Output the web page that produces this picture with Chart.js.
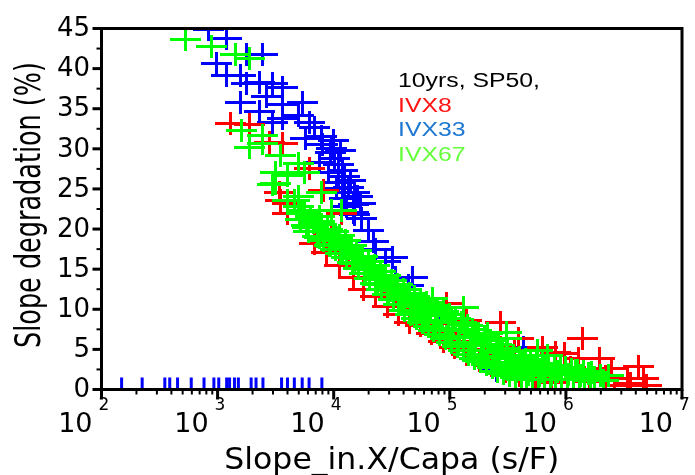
<!DOCTYPE html>
<html>
<head>
<meta charset="utf-8">
<script src="https://cdn.jsdelivr.net/npm/chart.js@4/dist/chart.umd.min.js"></script>
<style>
    html, body { margin: 0; padding: 0; background: #ffffff; }
    #wrap { width: 695px; height: 475px; }
</style>
</head>
<body>
<div id="wrap"><canvas id="slope-chart" width="695" height="475"></canvas></div>
<script>
// [Slope_in.X/Capa (s/F), Slope degradation (%)]
const ivx8Points = [
    [1290, 33.2], [1900, 33.0], [2820, 30.8], [3600, 30.7], [6150, 27.5], [8100, 24.8],
    [3400, 24.5], [4000, 23.2], [5600, 22.3], [11700, 22.0], [3500, 23.6], [4000, 22.0],
    [5900, 20.5], [6800, 18.2], [8700, 17.1], [11200, 15.5], [14800, 13.9], [18200, 12.5],
    [23000, 11.6], [29000, 10.4], [36000, 9.3], [45000, 8.4], [56000, 8.0], [70000, 7.0],
    [88000, 6.0], [110000, 5.2], [140000, 4.4], [180000, 3.6], [230000, 3.0], [300000, 2.2],
    [400000, 1.8], [550000, 1.5],
    [9500, 19.0], [13500, 17.2], [21000, 15.0], [27000, 13.2], [34000, 12.0], [43000, 10.8],
    [60000, 9.6], [75000, 8.2], [95000, 7.0], [120000, 6.0], [150000, 5.0], [190000, 4.3],
    [240000, 3.2], [320000, 2.6],
    [85000, 9.5], [138000, 8.6], [275000, 8.4], [390000, 6.4], [630000, 5.2], [810000, 4.6],
    [275000, 5.2], [360000, 4.9], [93000, 10.7], [59000, 10.7],
    [1380000, 6.3], [980000, 4.5], [1290000, 3.9], [1950000, 3.9], [2450000, 2.6], [4200000, 2.9],
    [3400000, 1.4], [4700000, 1.4], [3600000, 0.7], [4900000, 0.5], [2600000, 0.5], [1600000, 1.0],
    [2200000, 1.6], [1100000, 2.8], [750000, 0.9]
];

const ivx33Points = [
    [830, 44.9], [1200, 43.7], [980, 40.6], [1200, 39.2], [1580, 39.2], [1780, 41.7], [2450, 41.7],
    [1780, 38.2], [2290, 38.3], [2950, 38.2], [3600, 37.7], [1580, 35.8], [2630, 36.5], [5400, 35.8],
    [2290, 34.7], [2950, 33.3], [3600, 35.5], [5000, 34.2], [6150, 33.3], [3600, 33.8], [6900, 32.7],
    [7900, 31.5], [5750, 31.3], [9300, 29.5], [10200, 28.8], [7600, 28.3], [12000, 27.3], [11000, 25.8],
    [13500, 25.2], [12300, 23.8], [14800, 22.1],
    [8000, 30.5], [9500, 30.0], [11000, 28.0], [12500, 26.5], [14000, 26.0], [16000, 24.0],
    [13000, 22.8], [15000, 21.8], [9000, 27.0], [10500, 25.0], [12000, 24.5], [17000, 23.2],
    [10000, 31.0], [11500, 29.8],
    [15000, 24.5], [14800, 23.0], [17400, 21.3], [20000, 19.8], [22000, 18.4], [23000, 17.4],
    [32000, 16.4], [28000, 15.9], [34000, 14.0], [44000, 13.0], [48000, 13.9],
    [40000, 11.5], [55000, 10.0], [80000, 9.2], [162000, 6.7], [250000, 2.4], [430000, 5.2],
    [110000, 7.4], [65000, 8.0]
];

const ivx67Points = [
    [530, 43.6], [890, 42.7], [1420, 41.8], [1900, 41.2],
    [1600, 32.3], [2450, 31.7], [1900, 30.2], [2450, 30.7], [3450, 29.2], [5000, 28.2],
    [3150, 27.1], [3150, 25.7], [4000, 26.7], [5600, 27.0], [4600, 23.6], [5000, 24.0],
    [7900, 24.5], [5400, 22.3], [9500, 22.3], [11700, 22.3], [7600, 21.6], [4000, 23.6], [2990, 25.5],
    [5000, 22.8], [5200, 21.2], [5600, 22.3], [5800, 20.5], [6300, 21.6], [6100, 19.7],
    [7100, 20.9], [7300, 19.1], [7900, 20.6], [8200, 18.6], [8900, 20.0], [9200, 18.0],
    [10000, 19.7], [10300, 17.5], [9700, 18.7], [11200, 19.2], [11500, 16.9],
    [12600, 18.6], [13000, 16.4], [12300, 17.6], [14100, 18.0], [14500, 15.8],
    [15800, 17.3], [16200, 15.1], [15500, 16.3], [17800, 16.6], [18300, 14.5],
    [20000, 16.0], [20500, 13.8], [19500, 15.0], [22400, 15.4], [23000, 13.2],
    [25100, 14.7], [25800, 12.5], [24500, 13.7], [28200, 14.2], [29000, 11.9],
    [31600, 13.6], [32500, 11.2], [31000, 12.4], [35500, 13.1], [36500, 10.6],
    [39800, 12.5], [41000, 9.9], [39000, 11.3], [44700, 12.0], [46000, 9.4],
    [50000, 11.6], [51500, 8.8], [49000, 10.3], [56000, 11.2], [58000, 8.3],
    [63000, 10.8], [65000, 7.8], [62000, 9.2], [71000, 10.5], [73000, 7.3],
    [79000, 10.1], [82000, 6.8], [77000, 8.6], [89000, 9.7], [92000, 6.3],
    [100000, 9.3], [104000, 5.8], [97000, 7.5], [112000, 8.8], [116000, 5.3],
    [126000, 8.4], [130000, 4.9], [122000, 6.6], [141000, 8.0], [146000, 4.4],
    [158000, 7.5], [163000, 3.9], [154000, 5.9], [178000, 7.0], [184000, 3.5],
    [200000, 6.6], [207000, 3.1], [195000, 4.8], [224000, 6.1], [232000, 2.7],
    [251000, 5.6], [260000, 2.3], [245000, 4.1], [282000, 5.1], [292000, 2.0],
    [316000, 4.7], [327000, 1.7], [308000, 3.4], [355000, 4.3], [367000, 1.5],
    [398000, 4.0], [412000, 1.3], [390000, 2.7], [447000, 3.7], [460000, 1.2],
    [500000, 3.5], [520000, 1.2], [490000, 2.4], [560000, 3.3], [580000, 1.2],
    [630000, 3.2], [650000, 1.2], [620000, 2.2], [710000, 3.0], [730000, 1.2],
    [790000, 2.9], [820000, 1.2], [890000, 2.8], [920000, 1.3], [1000000, 2.7], [1040000, 1.3],
    [1120000, 2.5], [1160000, 1.3], [1260000, 2.4], [1300000, 1.2], [1410000, 2.2], [1460000, 1.2],
    [1580000, 2.0], [1640000, 1.1], [2000000, 1.8], [2100000, 1.1], [2350000, 1.75],
    [132000, 10.2], [71000, 11.4], [210000, 7.0], [310000, 6.4], [310000, 7.1],
    [575000, 4.9], [690000, 4.2], [1660000, 2.1], [1200000, 2.4],
    [5300, 22.0], [6000, 20.2], [6700, 20.8], [7500, 19.0], [8400, 19.7], [9400, 18.1],
    [10600, 18.9], [11900, 17.0], [13300, 17.8], [15000, 15.7], [16800, 16.5], [18800, 14.4],
    [21100, 15.2], [23700, 13.1], [26600, 13.9], [29900, 11.9], [33500, 12.8], [37600, 10.6],
    [42200, 11.6], [47300, 9.5], [53100, 10.7], [59600, 8.5], [66800, 9.9], [75000, 7.6],
    [84100, 9.2], [94400, 6.6], [106000, 8.3], [119000, 5.7], [133000, 7.4], [150000, 4.8],
    [168000, 6.5], [188000, 4.0], [211000, 5.5], [237000, 3.2], [266000, 4.6], [299000, 2.6],
    [335000, 3.9], [376000, 2.2], [422000, 3.3], [473000, 1.9], [531000, 2.9], [596000, 1.8],
    [668000, 2.7], [750000, 1.9], [841000, 2.3], [1060000, 1.9], [1330000, 1.7], [1780000, 1.5]
];

// short blue marks sitting on the x axis
const ivx33AxisX = [
    149, 224, 351, 387, 452, 593, 764, 929, 1023, 1197, 1268, 1397, 1510,
    1945, 2143, 2458, 3556, 3999, 4581, 5354, 6138, 7909
];
const ivx33AxisLevel = 0.75;

const yTickValues = [0, 5, 10, 15, 20, 25, 30, 35, 40, 45];
const xTickExponents = [2, 3, 4, 5, 6, 7];
const legendLines = ['10yrs, SP50,', 'IVX8', 'IVX33', 'IVX67'];
const legendColors = ['#000000', '#ff1414', '#1e78d2', '#66ff3c'];

function crossImage(color, w, h, t) {
    const c = document.createElement('canvas');
    c.width = w;
    c.height = h;
    const g = c.getContext('2d');
    g.fillStyle = color;
    g.fillRect(0, Math.floor((h - t) / 2), w, t);
    g.fillRect(Math.floor((w - t) / 2), 0, t, h);
    return c;
}

function toXY(list) {
    return list.map(([x, y]) => ({x: x, y: y}));
}

function line(ctx, x1, y1, x2, y2) {
    ctx.beginPath();
    ctx.moveTo(x1, y1);
    ctx.lineTo(x2, y2);
    ctx.stroke();
}

// crisp bitmap-like markers
const crispMarkers = {
    id: 'crispMarkers',
    beforeDatasetsDraw(chart) {
        chart.ctx.imageSmoothingEnabled = false;
    },
    afterDatasetsDraw(chart) {
        chart.ctx.imageSmoothingEnabled = true;
    }
};

const frameAndLabels = {
    id: 'frameAndLabels',
    afterDatasetsDraw(chart) {
        const {ctx, chartArea: a, scales: {x, y}} = chart;
        ctx.save();
        ctx.strokeStyle = '#000000';
        ctx.fillStyle = '#000000';
        ctx.lineWidth = 3;
        ctx.strokeRect(a.left, a.top, a.right - a.left, a.bottom - a.top);

        // y ticks, labels
        ctx.font = '26px "DejaVu Sans"';
        ctx.textAlign = 'right';
        ctx.textBaseline = 'middle';
        yTickValues.forEach((v, i) => {
            const py = y.getPixelForValue(v);
            ctx.lineWidth = 3;
            line(ctx, a.left - 9, py, a.left, py);
            if (i < yTickValues.length - 1) {
                const pm = y.getPixelForValue(v + 2.5);
                ctx.lineWidth = 2;
                line(ctx, a.left - 5, pm, a.left, pm);
            }
            ctx.fillText(String(v), 90, py + 1);
        });

        // x ticks, labels 10^n
        xTickExponents.forEach((e, i) => {
            const px = x.getPixelForValue(Math.pow(10, e));
            ctx.lineWidth = 3;
            line(ctx, px, a.bottom, px, a.bottom + 10);
            if (i < xTickExponents.length - 1) {
                ctx.lineWidth = 2;
                for (let m = 2; m <= 9; m++) {
                    const pm = x.getPixelForValue(m * Math.pow(10, e));
                    line(ctx, pm, a.bottom, pm, a.bottom + 5);
                }
            }
            ctx.textBaseline = 'alphabetic';
            ctx.textAlign = 'right';
            ctx.font = '27px "DejaVu Sans"';
            ctx.fillText('10', px - 9, 432);
            ctx.textAlign = 'left';
            ctx.font = '17px "DejaVu Sans"';
            ctx.fillText(String(e), px - 3, 410);
        });

        // axis titles
        ctx.textAlign = 'center';
        ctx.textBaseline = 'alphabetic';
        ctx.font = '30px "DejaVu Sans"';
        const xt = 'Slope_in.X/Capa (s/F)';
        const sx = 335 / ctx.measureText(xt).width;
        ctx.save();
        ctx.translate((a.left + a.right) / 2, 469);
        ctx.scale(sx, 1);
        ctx.fillText(xt, 0, 0);
        ctx.restore();

        ctx.font = '36px "DejaVu Sans"';
        const yt = 'Slope degradation (%)';
        const sy = 286 / ctx.measureText(yt).width;
        ctx.save();
        ctx.translate(40, 205);
        ctx.rotate(-Math.PI / 2);
        ctx.scale(sy, 1);
        ctx.fillText(yt, 0, 0);
        ctx.restore();

        // text legend
        ctx.font = '20px "Liberation Sans"';
        ctx.textAlign = 'left';
        legendLines.forEach((t, i) => {
            ctx.save();
            ctx.translate(398, 87 + i * 24.7);
            ctx.scale(1.24, 1);
            ctx.fillStyle = legendColors[i];
            ctx.fillText(t, 0, 0);
            ctx.restore();
        });
        ctx.restore();
    }
};

const ctx = document.getElementById('slope-chart').getContext('2d');
const chart = new Chart(ctx, {
    type: 'scatter',
    data: {
        datasets: [{
            label: 'IVX67',
            data: toXY(ivx67Points),
            pointStyle: crossImage('#00ff00', 31, 23, 3),
            pointRadius: 12,
            clip: 0,
        }, {
            label: 'IVX8',
            data: toXY(ivx8Points),
            pointStyle: crossImage('#ff0000', 31, 23, 3),
            pointRadius: 12,
            clip: 0,
        }, {
            label: 'IVX33',
            data: toXY(ivx33Points),
            pointStyle: crossImage('#0000ff', 31, 23, 3),
            pointRadius: 12,
            clip: 0,
        }, {
            label: 'IVX33 axis',
            data: ivx33AxisX.map(v => ({x: v, y: ivx33AxisLevel})),
            pointStyle: 'line',
            rotation: 90,
            pointRadius: 6,
            borderWidth: 3,
            borderColor: '#0000ff',
            backgroundColor: '#0000ff',
            clip: 0,
        }],
    },
    options: {
        responsive: false,
        devicePixelRatio: 1,
        animation: false,
        events: [],
        layout: {
            padding: {left: 101.5, top: 28.5, right: 1.5, bottom: 85.5},
        },
        plugins: {
            legend: {display: false},
            tooltip: {enabled: false},
        },
        scales: {
            x: {
                type: 'logarithmic',
                min: 100,
                max: 10000000,
                display: false,
            },
            y: {
                type: 'linear',
                min: 0,
                max: 45,
                display: false,
            },
        },
    },
    plugins: [crispMarkers, frameAndLabels],
});
</script>
</body>
</html>
